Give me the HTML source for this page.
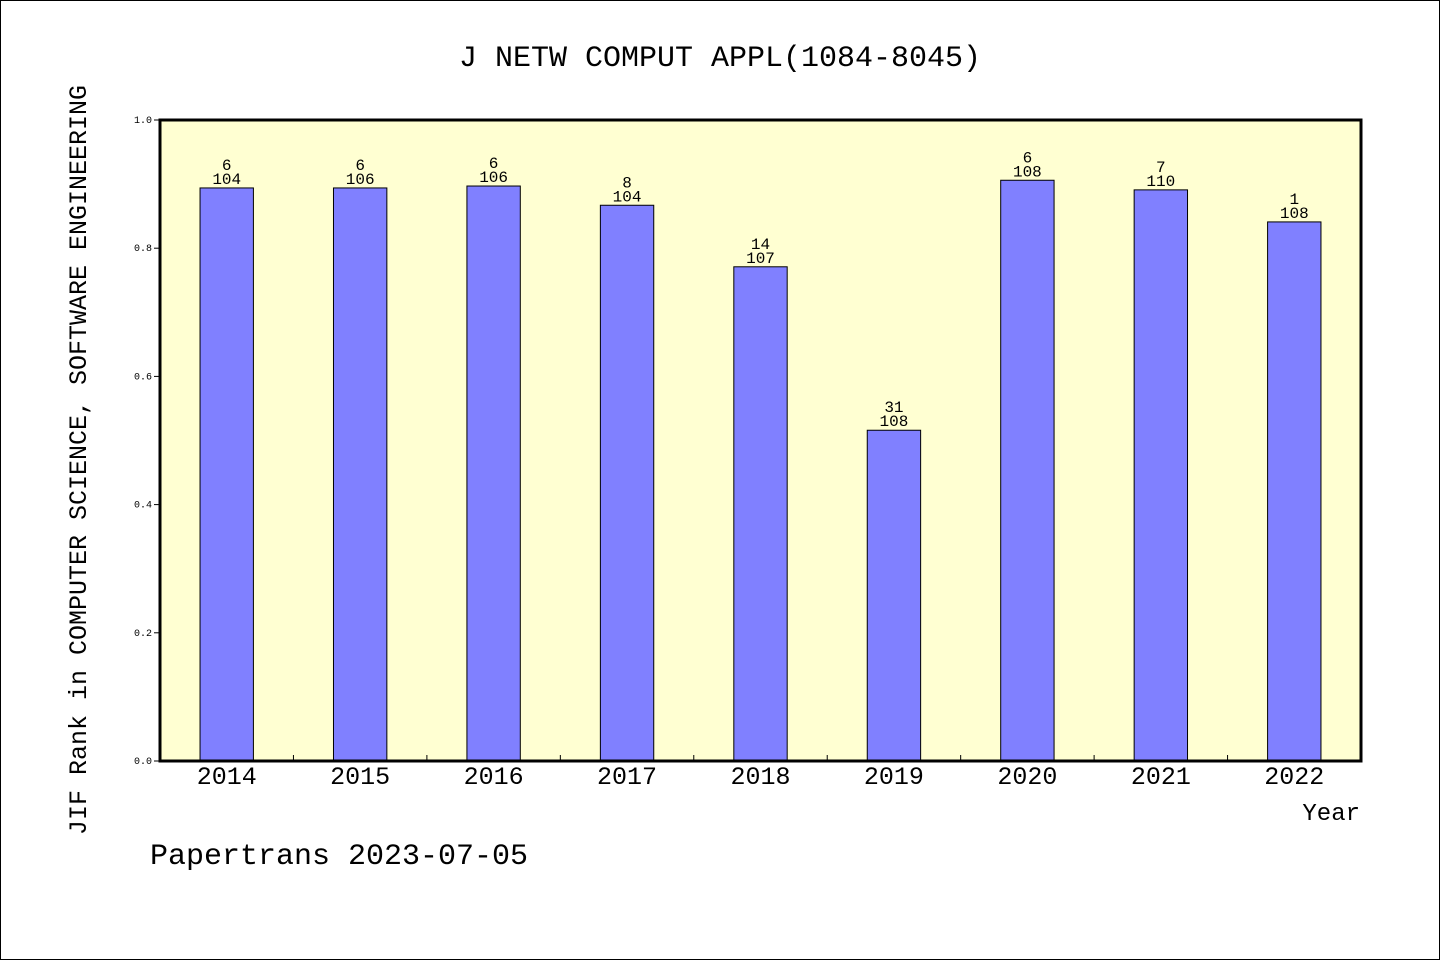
<!DOCTYPE html>
<html><head><meta charset="utf-8"><style>
body{margin:0;background:#fff}
svg{display:block}
text{font-family:"Liberation Mono",monospace;fill:#000}
</style></head><body>
<svg id="c" width="1440" height="960" xmlns="http://www.w3.org/2000/svg">
<rect x="0.5" y="0.5" width="1439" height="959" fill="#fff" stroke="#000"/>
<text x="720" y="66" font-size="30" text-anchor="middle">J NETW COMPUT APPL(1084-8045)</text>
<rect x="160" y="120" width="1201" height="641" fill="#ffffd2"/>
<g id="g"></g>
<rect x="160" y="120" width="1201" height="641" fill="none" stroke="#000" stroke-width="3"/>
<text transform="translate(86,460) rotate(-90)" font-size="25" text-anchor="middle">JIF Rank in COMPUTER SCIENCE, SOFTWARE ENGINEERING</text>
<text x="1360" y="820" font-size="24" text-anchor="end">Year</text>
<text x="150" y="864" font-size="30">Papertrans 2023-07-05</text>
</svg>
<script>
const years=["2014","2015","2016","2017","2018","2019","2020","2021","2022"];
const values=[0.894,0.894,0.897,0.867,0.771,0.516,0.906,0.891,0.841];
const ranks=["6","6","6","8","14","31","6","7","1"];
const totals=["104","106","106","104","107","108","108","110","108"];
const yTicks=[0,0.2,0.4,0.6,0.8,1.0];
const X0=160,W=1201,Y0=761,H=641;
const step=W/years.length;
const xc=i=>X0+step*(i+0.5);
const y=v=>Y0-v*H;
const g=document.getElementById('g');
const NS="http://www.w3.org/2000/svg";
function mk(t,a){const e=document.createElementNS(NS,t);for(const k in a)e.setAttribute(k,a[k]);g.appendChild(e);return e;}
yTicks.forEach(t=>{
 const l=mk('line',{x1:X0-6,x2:X0,y1:y(t),y2:y(t),stroke:'#000'});
 
 
 const tx=mk('text',{x:X0-8,y:y(t)+3,'font-size':10,'text-anchor':'end'});
 tx.textContent=t.toFixed(1);
 
 
});
for(let i=1;i<years.length;i++){
 const l=mk('line',{x1:X0+step*i,x2:X0+step*i,y1:Y0-6,y2:Y0,stroke:'#000'});
 
 
}
const bw=step*0.4;
years.forEach((yr,i)=>{
 const r=mk('rect',{x:xc(i)-bw/2,y:y(values[i]),width:bw,height:Y0-y(values[i]),fill:'#8080ff',stroke:'#000','stroke-width':1});
 
 
 const a=mk('text',{x:xc(i),y:y(values[i])-18,'font-size':16,'text-anchor':'middle'});
 a.textContent=ranks[i];
 
 
 const b=mk('text',{x:xc(i),y:y(values[i])-4,'font-size':16,'text-anchor':'middle'});
 b.textContent=totals[i];
 
 
 const xl=mk('text',{x:xc(i),y:Y0+23,'font-size':25,'text-anchor':'middle'});
 xl.textContent=yr;
 
 
});
</script>
</body></html>
